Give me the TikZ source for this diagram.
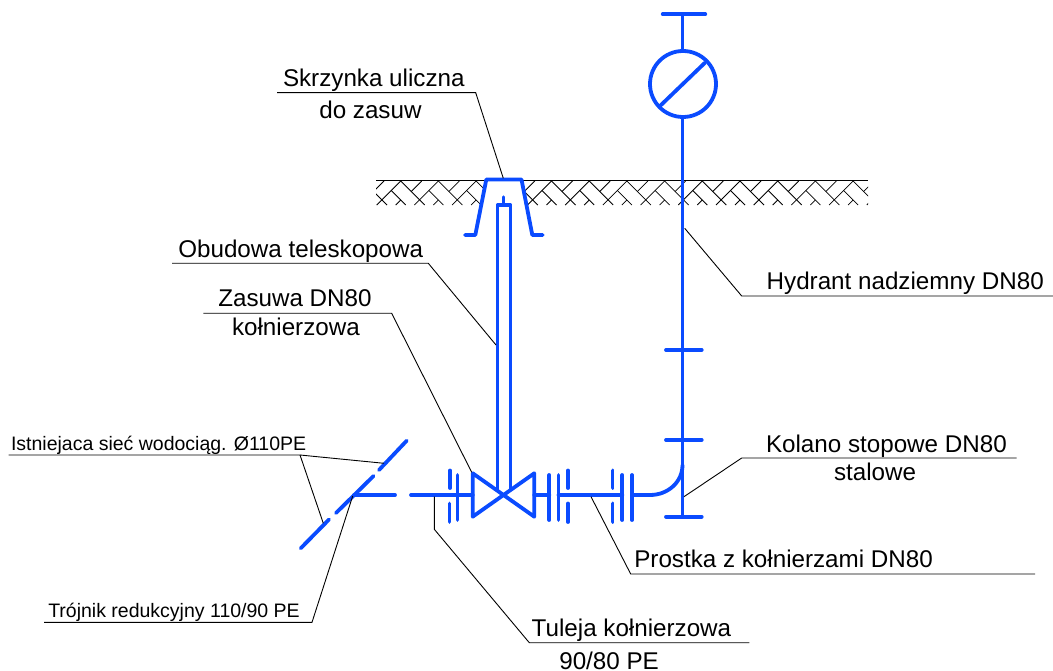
\documentclass[tikz,border=0pt]{standalone}
\usepackage{fontspec}
\setmainfont{Liberation Sans}
\tikzset{
  pipe/.style={draw=pipeblue,line width=3.8pt,line cap=round,line join=round},
  thinpipe/.style={draw=pipeblue,line width=3.1pt,line cap=round,line join=round},
  leader/.style={draw=black,line width=0.9pt,line join=miter},
  hatchline/.style={draw=black,line width=0.8pt},
  biglabel/.style={anchor=base west,inner sep=0pt,outer sep=0pt,text=black,font=\fontsize{24.2}{24.2}\selectfont},
  smalllabel/.style={anchor=base west,inner sep=0pt,outer sep=0pt,text=black,font=\fontsize{19.5}{19.5}\selectfont}
}
\definecolor{pipeblue}{HTML}{0A4BFF}
\begin{document}
\begin{tikzpicture}[x=1pt,y=-1pt]
\useasboundingbox (0,0) rectangle (1053,671);
% ground hatch
\begin{scope}
\clip (376,180.5) rectangle (868,205.5);
\foreach \i in {-2,...,14}{
  \pgfmathsetmacro{\xo}{400.7+37.7*\i}
  \draw[hatchline] (\xo,181) -- ++(24,24);
  \draw[hatchline] (\xo,181) -- ++(-24,24);
  \draw[hatchline] (\xo+21,181) -- ++(-10.5,10.5);
  \draw[hatchline] (\xo-9.5,190.5) -- ++(14.5,14.5);
  \draw[hatchline] (\xo-5,205) -- ++(5,-5);
}
\end{scope}
\fill[white] (486,181) -- (521.7,181) -- (532.3,236) -- (475.3,236) -- cycle;
\draw[hatchline] (376,180.3) -- (868,180.3);
% street box
\draw[pipe] (465,235) -- (475.3,235) -- (486.3,179.5) -- (521.5,179.5) -- (532.3,235) -- (542.7,235);
% telescopic housing
\draw[thinpipe,line cap=butt] (497.5,492) -- (497.5,205) -- (510.5,205) -- (510.5,491);
\draw[thinpipe] (503.8,197) -- (503.8,205);
% valve
\draw[pipe] (472.7,473.3) -- (534.3,516.7) -- (534.3,473.3) -- (472.7,516.7) -- cycle;
% pipes
\draw[pipe] (411,495) -- (472.7,495);
\draw[pipe] (534.3,495) -- (549.3,495);
\draw[pipe] (558.5,495) -- (622.3,495);
\draw[pipe] (632,495) -- (650,495) .. controls (668,495) and (682.5,482) .. (682.5,465);
\draw[pipe] (354,495) -- (395,495);
% flanges left
\draw[pipe] (450,470.5) -- (450,488);
\draw[pipe] (449.5,503.5) -- (449.5,522);
\draw[pipe] (457.5,475) -- (457.5,520);
% flanges after valve
\draw[pipe] (549.3,475) -- (549.3,520);
\draw[pipe] (558.5,475) -- (558.5,520);
\draw[pipe] (568,470.5) -- (568,488);
\draw[pipe] (568,503.5) -- (568,522);
% flanges before elbow
\draw[pipe] (612.5,470.5) -- (612.5,488);
\draw[pipe] (612.5,503.5) -- (612.5,522);
\draw[pipe] (622.3,475) -- (622.3,520);
\draw[pipe] (632,475) -- (632,520);
% hydrant column
\draw[pipe,line cap=butt] (682.5,116) -- (682.5,516.7);
\draw[pipe] (666,516.7) -- (701.7,516.7);
\draw[pipe] (666,440) -- (701.7,440);
\draw[pipe] (666,350) -- (701.7,350);
% hydrant head
\draw[pipe] (683,84) circle (33);
\draw[pipe] (660,106) -- (705,62.7);
\draw[pipe,line cap=butt] (682.5,14.3) -- (682.5,51);
\draw[pipe] (662.7,14.3) -- (705.3,14.3);
% existing main
\draw[pipe] (300.7,548.3) -- (329,519.5);
\draw[pipe] (336,513) -- (373.5,476);
\draw[pipe] (379,470) -- (406.7,440.7);
% labels
\node[biglabel] (skrz) at (283,86.7) {Skrzynka uliczna};
\node[biglabel] (dozas) at (319.3,118.3) {do zasuw};
\node[biglabel] (obud) at (178.3,257.3) {Obudowa teleskopowa};
\node[biglabel] (zasu) at (218.3,306.7) {Zasuwa DN80};
\node[biglabel] (koln) at (232,335.7) {kołnierzowa};
\node[biglabel] (hydr) at (766.7,289.3) {Hydrant nadziemny DN80};
\node[biglabel] (kola) at (766,452) {Kolano stopowe DN80};
\node[biglabel] (stal) at (834,480) {stalowe};
\node[biglabel] (pros) at (634.3,567.7) {Prostka z kołnierzami DN80};
\node[biglabel] (tule) at (531.7,636.7) {Tuleja kołnierzowa};
\node[biglabel] (pe) at (559.3,669) {90/80 PE};
\node[smalllabel] (istn) at (11,450) {Istniejaca sieć wodociąg. Ø110PE};
\node[smalllabel] (troj) at (48.3,617.7) {Trójnik redukcyjny 110/90 PE};
% leaders
\draw[leader] (277,92.7) -- (475.7,92.7) -- (503.3,178.3);
\draw[leader] (172,263.3) -- (428.3,263.3) -- (496,345);
\draw[leader] (203.3,313.3) -- (391.7,313.3) -- (471.7,472.3);
\draw[leader] (1053,296) -- (741.7,296) -- (684.7,228.3);
\draw[leader] (1016.7,458) -- (741.7,458) -- (684,496.7);
\draw[leader] (1035,574) -- (630.7,574) -- (591,496.7);
\draw[leader] (749.3,642.7) -- (529.3,642.7) -- (434.3,529.3) -- (434.3,496.5);
\draw[leader] (8.7,455) -- (300,455) -- (323.3,523.3);
\draw[leader] (300,455) -- (384,463.3);
\draw[leader] (44,622.3) -- (312,622.3) -- (352.7,496);
\end{tikzpicture}
\end{document}
